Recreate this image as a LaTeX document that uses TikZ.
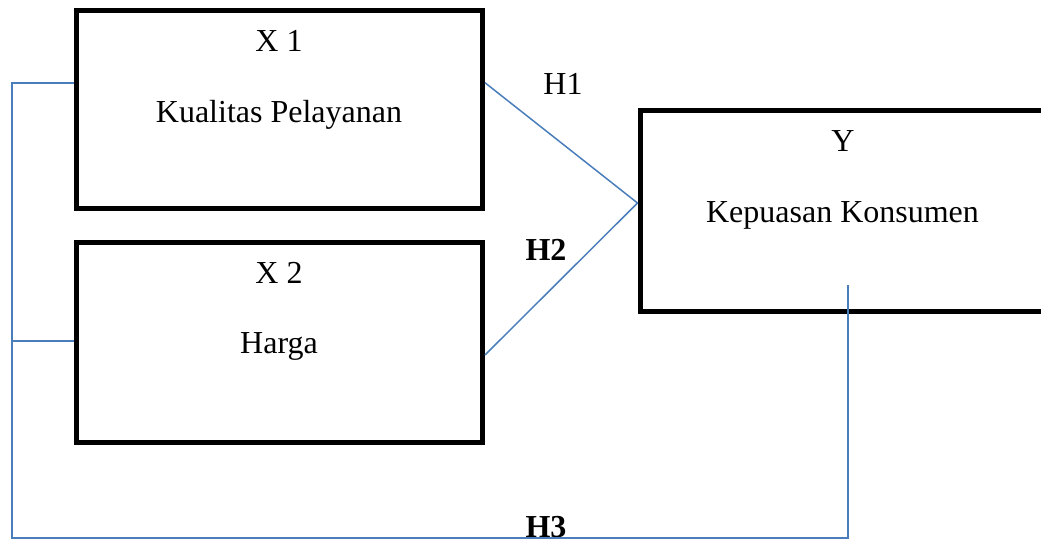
\documentclass[tikz,border=0pt]{standalone}
\usepackage{fontspec}
\setmainfont{Liberation Serif}
\usetikzlibrary{calc}
\definecolor{lineblue}{HTML}{4A7EBB}
\begin{document}
\begin{tikzpicture}[x=1pt,y=-1pt,
  box/.style={draw=black,line width=5pt,rectangle,inner sep=0pt,fill=white},
  lbl/.style={anchor=base,inner sep=0pt,font=\fontsize{32}{38}\selectfont},
  blbl/.style={lbl,font=\fontsize{32}{38}\selectfont\bfseries},
  conn/.style={draw=lineblue,line width=1.5pt}]
\useasboundingbox (0,0) rectangle (1041,540);
\clip (0,0) rectangle (1041,540);
% boxes
\node[box,minimum width=406pt,minimum height=198.5pt] (x1) at (279.5,109.75) {};
\node[box,minimum width=406pt,minimum height=199.5pt] (x2) at (279.5,342.25) {};
\node[box,minimum width=460pt,minimum height=200.5pt] (y) at (870,210.75) {};
% texts
\node[lbl] (x1a) at (279,52) {X 1};
\node[lbl] (x1b) at (279,123) {Kualitas Pelayanan};
\node[lbl] (x2a) at (279,283) {X 2};
\node[lbl] (x2b) at (279,353) {Harga};
\node[lbl] (ya) at (843,152) {Y};
\node[lbl] (yb) at (842.5,222.5) {Kepuasan Konsumen};
\node[lbl] (h1) at (563,95) {H1};
\node[blbl] (h2) at (546,260) {H2};
\node[blbl] (h3) at (546,537.5) {H3};
% coordinates
\coordinate (bl) at (12,538);
\coordinate (br) at (848,538);
\coordinate (ytail) at (848,285);
\coordinate (j2) at (12,341);
% connectors
\draw[conn] ([yshift=27pt]x1.east) -- ([yshift=7.75pt]y.west);
\draw[conn] ([yshift=-12.75pt]x2.east) -- ([yshift=7.75pt]y.west);
\draw[conn] ([yshift=26.75pt]x1.west) -| (bl) -- (br) -- (ytail);
\draw[conn] (j2) -- ([yshift=1.25pt]x2.west);
\end{tikzpicture}
\end{document}
